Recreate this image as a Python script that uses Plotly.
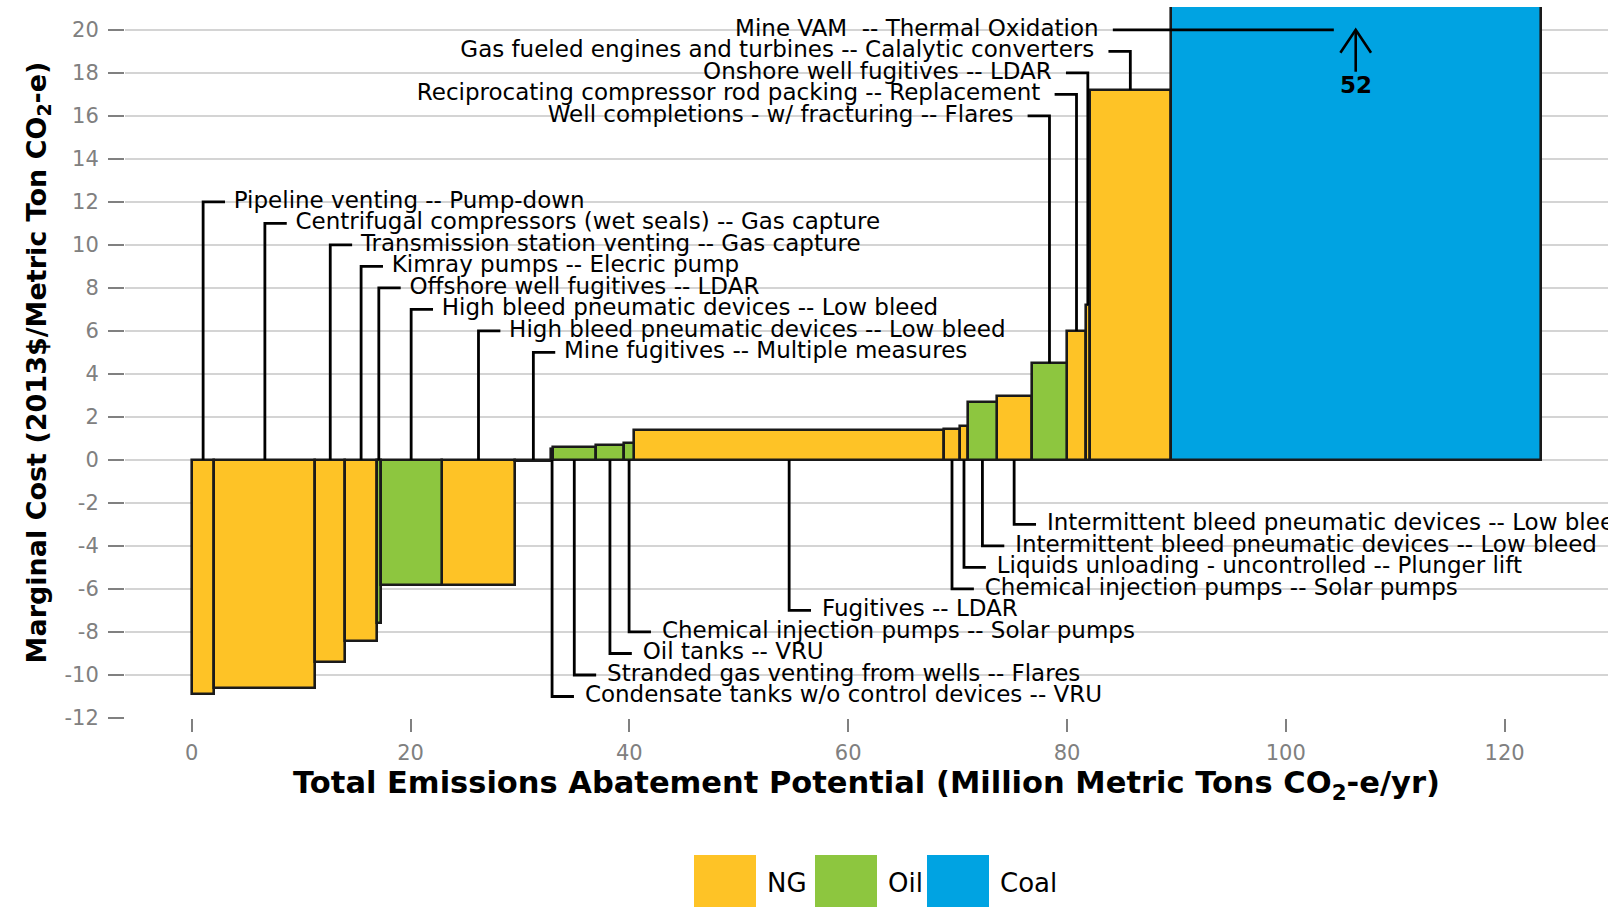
import plotly.graph_objects as go

# Abatement measures, in merit order (cheapest first)
measures = [
    "Pipeline venting -- Pump-down",
    "Centrifugal compressors (wet seals) -- Gas capture",
    "Transmission station venting -- Gas capture",
    "Kimray pumps -- Elecric pump",
    "Offshore well fugitives -- LDAR",
    "High bleed pneumatic devices -- Low bleed",
    "High bleed pneumatic devices -- Low bleed",
    "Mine fugitives -- Multiple measures",
    "Condensate tanks w/o control devices -- VRU",
    "Stranded gas venting from wells -- Flares",
    "Oil tanks -- VRU",
    "Chemical injection pumps -- Solar pumps",
    "Fugitives -- LDAR",
    "Chemical injection pumps -- Solar pumps",
    "Liquids unloading - uncontrolled -- Plunger lift",
    "Intermittent bleed pneumatic devices -- Low bleed",
    "Intermittent bleed pneumatic devices -- Low bleed",
    "Well completions - w/ fracturing -- Flares",
    "Reciprocating compressor rod packing -- Replacement",
    "Onshore well fugitives -- LDAR",
    "Gas fueled engines and turbines -- Calalytic converters",
    "Mine VAM  -- Thermal Oxidation",
]
sectors = [
    "NG", "NG", "NG", "NG", "Oil", "Oil", "NG", "Coal",
    "NG", "Oil", "Oil", "Oil", "NG", "NG", "NG", "Oil", "NG",
    "Oil", "NG", "NG", "NG", "Coal",
]
# Abatement potential (Million Metric Tons CO2-e/yr)
abatement = [
    2.08, 9.21, 2.74, 2.90, 0.34, 5.57, 6.74, 3.29,
    0.13, 3.93, 2.59, 0.91, 28.35, 1.42, 0.77, 2.60, 3.20,
    3.26, 1.68, 0.39, 7.38, 33.82,
]
# Marginal cost (2013$/Metric Ton CO2-e)
cost = [
    -10.9, -10.6, -9.4, -8.4, -7.6, -5.8, -5.8, -0.05,
    0.5, 0.6, 0.7, 0.8, 1.4, 1.45, 1.6, 2.7, 2.95,
    4.5, 6.0, 7.2, 17.2, 52,
]

sector_order = ["NG", "Oil", "Coal"]
sector_colors = {"NG": "#FEC326", "Oil": "#8DC63F", "Coal": "#00A3E2"}

x_ticks = [0, 20, 40, 60, 80, 100, 120]
y_ticks = list(range(-12, 21, 2))
y_tick_text = [str(v) for v in y_ticks]

X_RANGE = [-6.1, 129.45]
Y_RANGE = [-12.0, 21.06]

# Figure geometry (pixels)
W, H = 1620, 907
ML, MR, MT, MB = 125, 12, 7, 189
PW, PH = W - ML - MR, H - MT - MB


def paper_x(px):
    return (px - ML) / PW


def paper_y(py):
    return (H - MB - py) / PH


# Cumulative position of every bar
lefts, centers = [], []
acc = 0.0
for w in abatement:
    lefts.append(acc)
    centers.append(acc + w / 2)
    acc += w

fig = go.Figure()

# Bars, one trace per sector
for s in sector_order:
    idx = [i for i, v in enumerate(sectors) if v == s]
    fig.add_trace(go.Bar(
        x=[centers[i] for i in idx],
        y=[cost[i] for i in idx],
        width=[abatement[i] for i in idx],
        base=0,
        name=s,
        marker=dict(color=sector_colors[s], line=dict(color="#1a1a1a", width=2.6)),
        showlegend=False,
        hovertext=[measures[i] for i in idx],
    ))

# Label placement: cost-saving measures above, cheap ones below, expensive ones top-right
upper = [i for i in range(len(cost)) if cost[i] <= 0]
lower = [i for i in range(len(cost)) if 0 < cost[i] < 4]
right = [i for i in range(len(cost)) if cost[i] >= 4]

lx, ly = [], []          # leader lines
txt_r = dict(x=[], y=[], t=[])   # text to the right of its leader
txt_l = dict(x=[], y=[], t=[])   # text to the left of its leader
arrow_x, arrow_y = [], []
over_labels = []

for k, i in enumerate(upper):
    yl = 12 - k
    xc = centers[i]
    lx += [xc, xc, xc + 2, None]
    ly += [0, yl, yl, None]
    txt_r["x"].append(xc + 2.8); txt_r["y"].append(yl); txt_r["t"].append(measures[i])

for k, i in enumerate(lower):
    yl = -11 + k
    xc = centers[i]
    lx += [xc, xc, xc + 2, None]
    ly += [0, yl, yl, None]
    txt_r["x"].append(xc + 3.0); txt_r["y"].append(yl); txt_r["t"].append(measures[i])

prev_start = None
for k, i in enumerate(right):
    yl = 16 + k
    xc = centers[i]
    if cost[i] > Y_RANGE[1]:
        # bar runs off the top: leader ends at an arrow carrying the value
        start = prev_start + 0.4
        lx += [start, xc - 2, None]
        ly += [yl, yl, None]
        arrow_x += [xc, xc, None, xc - 1.4, xc, xc + 1.4]
        arrow_y += [yl - 1.95, yl, None, yl - 1.07, yl, yl - 1.07]
        over_labels.append((xc, yl - 2.55, f"{cost[i]:g}"))
    else:
        start = xc - 2
        lx += [xc, xc, start, None]
        ly += [cost[i], yl, yl, None]
    prev_start = start
    txt_l["x"].append(start - 1.3); txt_l["y"].append(yl); txt_l["t"].append(measures[i])

fig.add_trace(go.Scatter(
    x=lx, y=ly, mode="lines", line=dict(color="black", width=2.8),
    showlegend=False, hoverinfo="skip",
))
fig.add_trace(go.Scatter(
    x=arrow_x, y=arrow_y, mode="lines", line=dict(color="black", width=2.6),
    showlegend=False, hoverinfo="skip",
))

label_font = dict(family="DejaVu Sans", size=23, color="black")
fig.add_trace(go.Scatter(
    x=txt_r["x"], y=txt_r["y"], text=txt_r["t"], mode="text",
    textposition="middle right", textfont=label_font,
    showlegend=False, hoverinfo="skip", cliponaxis=True,
))
fig.add_trace(go.Scatter(
    x=txt_l["x"], y=txt_l["y"], text=txt_l["t"], mode="text",
    textposition="middle left", textfont=label_font,
    showlegend=False, hoverinfo="skip", cliponaxis=True,
))
for xc, yv, t in over_labels:
    fig.add_annotation(
        x=xc, y=yv, text=f"<b>{t}</b>", showarrow=False,
        font=dict(family="DejaVu Sans", size=23, color="black"),
    )

# Legend drawn as large key squares below the axis title
legend_keys = [("NG", 694, 765), ("Oil", 815, 886), ("Coal", 927, 998)]
for name, kx, tx in legend_keys:
    fig.add_shape(
        type="rect", xref="paper", yref="paper",
        x0=paper_x(kx), x1=paper_x(kx + 62), y0=paper_y(915), y1=paper_y(855),
        fillcolor=sector_colors[name], line=dict(width=0), layer="above",
    )
    fig.add_annotation(
        xref="paper", yref="paper", x=paper_x(tx), y=paper_y(883),
        xanchor="left", yanchor="middle", text=name, showarrow=False,
        font=dict(family="DejaVu Sans", size=26, color="black"),
    )

tick_font = dict(family="DejaVu Sans", size=21, color="#808080")
fig.update_layout(
    width=W, height=H,
    margin=dict(l=ML, r=MR, t=MT, b=MB),
    paper_bgcolor="white", plot_bgcolor="white",
    bargap=0,
    xaxis=dict(
        range=X_RANGE, tickvals=x_ticks, showgrid=False, zeroline=False,
        ticks="outside", ticklen=13, tickwidth=2, tickcolor="#808080",
        tickfont=tick_font, ticklabelstandoff=3, showline=False,
        title=dict(
            text="Total Emissions Abatement Potential (Million Metric Tons CO<sub>2</sub>-e/yr)",
            font=dict(family="DejaVu Sans", size=30.5, color="black", weight="bold"),
            standoff=3,
        ),
        automargin=False,
    ),
    yaxis=dict(
        range=Y_RANGE, tickvals=y_ticks, ticktext=y_tick_text,
        showgrid=True, gridcolor="#d4d4d4", gridwidth=1.5, zeroline=False,
        ticks="outside", ticklen=16, tickwidth=2, tickcolor="#808080",
        tickfont=tick_font, ticklabelstandoff=5, showline=False,
        title=dict(
            text="Marginal Cost (2013$/Metric Ton CO<sub>2</sub>-e)",
            font=dict(family="DejaVu Sans", size=27, color="black", weight="bold"),
            standoff=10,
        ),
        automargin=False,
    ),
)

fig.write_html("out.html")
